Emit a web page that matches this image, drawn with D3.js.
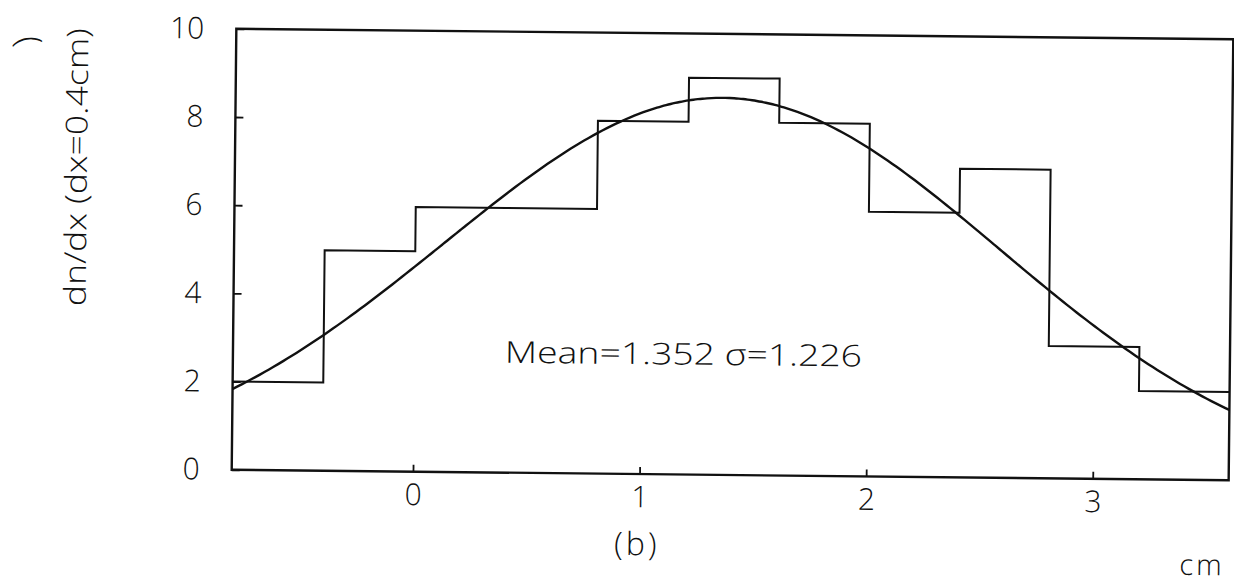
<!DOCTYPE html>
<html>
<head>
<meta charset="utf-8">
<script src="https://cdn.jsdelivr.net/npm/d3@7/dist/d3.min.js"></script>
<style>
  html, body { margin: 0; padding: 0; background: #fff; }
  svg { display: block; }
  text { font-family: "Open Sans", "Liberation Sans", sans-serif; font-weight: 300; fill: #111; }
</style>
</head>
<body>
<svg id="chart" width="1234" height="585"></svg>
<script>
// Histogram of dn/dx in bins of 0.4 cm
const binEdges  = [-0.8, -0.4, 0, 0.4, 0.8, 1.2, 1.6, 2.0, 2.4, 2.8, 3.2, 3.6];
const binCounts = [2, 5, 6, 6, 8, 9, 8, 6, 7, 3, 2];

// Axis ticks
const xTicks = [0, 1, 2, 3];
const yTicks = [0, 2, 4, 6, 8, 10];

// Gaussian fit parameters
const fitMean  = 1.352;
const fitSigma = 1.226;
const fitPeak  = 8.55;

const svg = d3.select("#chart");
const box = { left: 234, right: 1231, top: 34, bottom: 475 };

const x = d3.scaleLinear().domain([-0.8, 3.6]).range([box.left, box.right]);
const y = d3.scaleLinear().domain([0, 10]).range([box.bottom, box.top]);

// the page sits slightly tilted
const g = svg.append("g").attr("transform", "rotate(0.6,732,254)");

const ink = "#111";
const fontFam = "Open Sans, Liberation Sans, sans-serif";

// frame
g.append("rect")
  .attr("x", box.left).attr("y", box.top)
  .attr("width", box.right - box.left).attr("height", box.bottom - box.top)
  .attr("fill", "none").attr("stroke", ink).attr("stroke-width", 2.4);

// inward ticks on the bottom axis
const xAxis = d3.axisBottom(x).tickValues(xTicks).tickSizeInner(-7).tickSizeOuter(0)
  .tickPadding(12).tickFormat(d3.format("d"));
const gx = g.append("g").attr("transform", `translate(0,${box.bottom})`).call(xAxis);
gx.select(".domain").remove();
gx.selectAll(".tick line").attr("stroke", ink).attr("stroke-width", 1.8);
gx.selectAll(".tick text")
  .attr("font-size", 30).attr("fill", ink)
  .attr("font-family", fontFam).attr("font-weight", 300)
  .attr("dy", "0.71em");

// inward ticks on the left axis
const yAxis = d3.axisLeft(y).tickValues(yTicks).tickSizeInner(-8).tickSizeOuter(0)
  .tickPadding(32).tickFormat(d3.format("d"));
const gy = g.append("g").attr("transform", `translate(${box.left},0)`).call(yAxis);
gy.select(".domain").remove();
gy.selectAll(".tick line").attr("stroke", ink).attr("stroke-width", 1.8);
gy.selectAll(".tick text")
  .attr("font-size", 30).attr("fill", ink)
  .attr("font-family", fontFam).attr("font-weight", 300);

// histogram outline as steps
const steps = [];
binCounts.forEach((c, i) => {
  steps.push([binEdges[i], c]);
  steps.push([binEdges[i + 1], c]);
});
g.append("path")
  .datum(steps)
  .attr("fill", "none").attr("stroke", ink).attr("stroke-width", 2)
  .attr("d", d3.line().x(d => x(d[0])).y(d => y(d[1])));

// fitted Gaussian
const curvePts = d3.range(-0.8, 3.6001, 0.02).map(v =>
  [v, fitPeak * Math.exp(-((v - fitMean) ** 2) / (2 * fitSigma * fitSigma))]);
g.append("path")
  .datum(curvePts)
  .attr("fill", "none").attr("stroke", ink).attr("stroke-width", 2.4)
  .attr("d", d3.line().curve(d3.curveBasis).x(d => x(d[0])).y(d => y(d[1])));

// fit summary
g.append("text")
  .attr("x", 506).attr("y", 365)
  .attr("font-size", 30)
  .attr("textLength", 357).attr("lengthAdjust", "spacingAndGlyphs")
  .text(`Mean=${fitMean.toFixed(3)} \u03c3=${fitSigma.toFixed(3)}`);

// panel tag and unit
g.append("text")
  .attr("x", 640).attr("y", 556)
  .attr("text-anchor", "middle").attr("font-size", 32)
  .attr("letter-spacing", 3)
  .text("(b)");
g.append("text")
  .attr("x", 1228).attr("y", 570)
  .attr("text-anchor", "end").attr("font-size", 29)
  .attr("letter-spacing", 3)
  .text("cm");

// y axis title
g.append("text")
  .attr("transform", "translate(86,174) rotate(-90)")
  .attr("text-anchor", "middle").attr("font-size", 30)
  .attr("textLength", 278).attr("lengthAdjust", "spacingAndGlyphs")
  .text("dn/dx (dx=0.4cm)");

// leftover bracket at the top-left edge, lying on its side
g.append("text")
  .attr("transform", "translate(34,47) rotate(-100)")
  .attr("text-anchor", "middle").attr("font-size", 34).attr("font-weight", 400)
  .text(")");
</script>
</body>
</html>
